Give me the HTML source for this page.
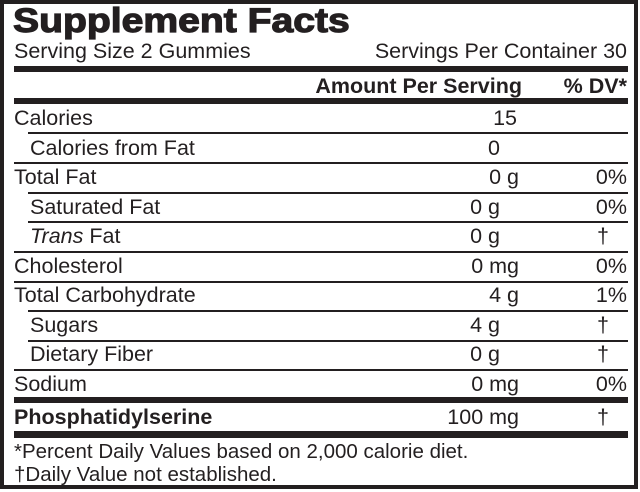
<!DOCTYPE html>
<html><head><meta charset="utf-8"><style>
html,body{margin:0;padding:0;background:#fff;}
#c{position:relative;width:640px;height:492px;overflow:hidden;font-family:"Liberation Sans",Arial,sans-serif;color:#231f20;}
.frame{position:absolute;left:0;top:0;width:630px;height:481px;border:4px solid #231f20;}
.t{position:absolute;white-space:nowrap;font-size:21.5px;line-height:22px;}
.r{text-align:right;}
.bar{position:absolute;background:#231f20;}
</style></head><body><div id="c">
<div class="frame"></div>
<div class="t" style="left:13px;top:4px;font-size:34px;line-height:34px;font-weight:bold;-webkit-text-stroke:1.2px #231f20;transform:scaleX(1.15);transform-origin:0 0;">Supplement Facts</div>
<div class="t" style="left:14px;top:40px;">Serving Size 2 Gummies</div>
<div class="t r" style="right:13px;top:40px;">Servings Per Container 30</div>
<div class="bar" style="left:14px;top:66px;width:614px;height:6px;"></div>
<div class="t r" style="right:118px;top:75px;font-weight:bold;">Amount Per Serving</div>
<div class="t r" style="right:13px;top:75px;font-weight:bold;">% DV*</div>
<div class="bar" style="left:14px;top:98px;width:614px;height:6px;"></div>

<div class="t" style="left:14px;top:107px;">Calories</div><div class="t r" style="right:123px;top:107px;">15</div>
<div class="bar" style="left:28px;top:132px;width:600px;height:1.5px;"></div>
<div class="t" style="left:30px;top:137px;">Calories from Fat</div><div class="t r" style="right:140px;top:137px;">0</div>
<div class="bar" style="left:14px;top:162px;width:614px;height:1.5px;"></div>
<div class="t" style="left:14px;top:166px;">Total Fat</div><div class="t r" style="right:121px;top:166px;">0 g</div><div class="t r" style="right:13px;top:166px;">0%</div>
<div class="bar" style="left:28px;top:192px;width:600px;height:1.5px;"></div>
<div class="t" style="left:30px;top:196px;">Saturated Fat</div><div class="t r" style="right:140px;top:196px;">0 g</div><div class="t r" style="right:13px;top:196px;">0%</div>
<div class="bar" style="left:28px;top:221px;width:600px;height:1.5px;"></div>
<div class="t" style="left:30px;top:225px;"><i>Trans</i> Fat</div><div class="t r" style="right:140px;top:225px;">0 g</div><div class="t" style="left:597px;top:225px;">†</div>
<div class="bar" style="left:14px;top:251px;width:614px;height:1.5px;"></div>
<div class="t" style="left:14px;top:255px;">Cholesterol</div><div class="t r" style="right:121px;top:255px;">0 mg</div><div class="t r" style="right:13px;top:255px;">0%</div>
<div class="bar" style="left:14px;top:281px;width:614px;height:1.5px;"></div>
<div class="t" style="left:14px;top:284px;">Total Carbohydrate</div><div class="t r" style="right:121px;top:284px;">4 g</div><div class="t r" style="right:13px;top:284px;">1%</div>
<div class="bar" style="left:28px;top:310px;width:600px;height:1.5px;"></div>
<div class="t" style="left:30px;top:314px;">Sugars</div><div class="t r" style="right:140px;top:314px;">4 g</div><div class="t" style="left:597px;top:314px;">†</div>
<div class="bar" style="left:28px;top:340px;width:600px;height:1.5px;"></div>
<div class="t" style="left:30px;top:343px;">Dietary Fiber</div><div class="t r" style="right:140px;top:343px;">0 g</div><div class="t" style="left:597px;top:343px;">†</div>
<div class="bar" style="left:14px;top:369px;width:614px;height:1.5px;"></div>
<div class="t" style="left:14px;top:373px;">Sodium</div><div class="t r" style="right:121px;top:373px;">0 mg</div><div class="t r" style="right:13px;top:373px;">0%</div>
<div class="bar" style="left:14px;top:397px;width:614px;height:6px;"></div>
<div class="t" style="left:14px;top:406px;font-weight:bold;">Phosphatidylserine</div><div class="t r" style="right:121px;top:406px;">100 mg</div><div class="t" style="left:597px;top:406px;">†</div>
<div class="bar" style="left:14px;top:431px;width:614px;height:7px;"></div>
<div class="t" style="left:14px;top:441px;font-size:20.5px;">*Percent Daily Values based on 2,000 calorie diet.</div>
<div class="t" style="left:14px;top:464px;font-size:20.5px;">†Daily Value not established.</div>
</div></body></html>
